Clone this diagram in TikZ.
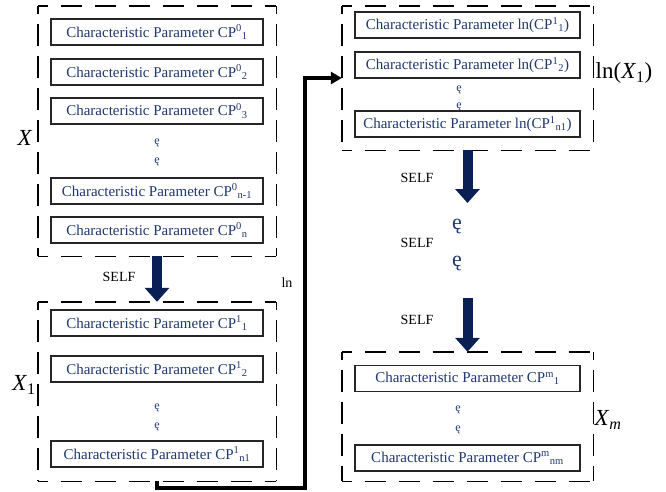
\documentclass[tikz,border=0pt]{standalone}
\usepackage{fontspec}
\setmainfont{Liberation Serif}
\usetikzlibrary{arrows.meta}
\definecolor{txtblue}{RGB}{31,56,110}
\definecolor{arrblue}{RGB}{10,32,84}
\begin{document}
\begin{tikzpicture}[x=1pt,y=-1pt,
  outer/.style={inner sep=0pt},
  hd/.style={draw=black, line width=1.4pt, dash pattern=on 21pt off 13pt, dash phase=11pt},
  vd/.style={draw=black, line width=1.4pt, dash pattern=on 22pt off 10pt, dash phase=14pt},
  param/.style={draw=black!85, line width=1.2pt, minimum height=26pt, inner sep=0pt, text=txtblue, font=\fontsize{15}{18}\selectfont},
  pl/.style={param, minimum width=212pt},
  pr/.style={param, minimum width=225pt},
  vdots/.style={text=txtblue, font=\fontsize{12}{14}\selectfont, inner sep=0pt},
  bigdots/.style={text=txtblue, font=\fontsize{22}{24}\selectfont, inner sep=0pt},
  selfarrow/.style={draw=arrblue, line width=10pt, -{Triangle[width=24pt,length=14pt]}},
  conn/.style={draw=black, line width=3.5pt, -{Triangle[width=12pt,length=11pt]}},
  lbl/.style={font=\fontsize{14}{16}\selectfont, inner sep=0pt},
  setlbl/.style={font=\fontsize{23}{26}\selectfont, inner sep=0pt}]
\useasboundingbox (0,0) rectangle (666,491);
% outer dashed groups
\node[outer, minimum width=238pt, minimum height=250pt] (x0) at (157,131) {};
\node[outer, minimum width=238pt, minimum height=179pt] (x1) at (157,391.5) {};
\node[outer, minimum width=251pt, minimum height=144pt] (lnx) at (467.5,78) {};
\node[outer, minimum width=251pt, minimum height=129pt] (xm) at (467.5,416.5) {};
\foreach \n in {x0,x1,lnx,xm}{
  \draw[hd] (\n.north west) -- (\n.north east);
  \draw[hd] (\n.south west) -- (\n.south east);
  \draw[vd] (\n.north west) -- (\n.south west);
  \draw[vd] (\n.north east) -- (\n.south east);
}
% X
\node[pl] (a1) at (157,32) {Characteristic Parameter CP\textsuperscript{0}\textsubscript{1}};
\node[pl] (a2) at (157,72) {Characteristic Parameter CP\textsuperscript{0}\textsubscript{2}};
\node[pl] (a3) at (157,111) {Characteristic Parameter CP\textsuperscript{0}\textsubscript{3}};
\node[vdots] (ad1) at (157,143) {ę};
\node[vdots] (ad2) at (157,162) {ę};
\node[pl] (a4) at (157,191) {Characteristic Parameter CP\textsuperscript{0}\textsubscript{n-1}};
\node[pl] (a5) at (157,230) {Characteristic Parameter CP\textsuperscript{0}\textsubscript{n}};
% X1
\node[pl] (b1) at (157,323) {Characteristic Parameter CP\textsuperscript{1}\textsubscript{1}};
\node[pl] (b2) at (157,369) {Characteristic Parameter CP\textsuperscript{1}\textsubscript{2}};
\node[vdots] (bd1) at (157,408) {ę};
\node[vdots] (bd2) at (157,427) {ę};
\node[pl] (b3) at (157,454) {Characteristic Parameter CP\textsuperscript{1}\textsubscript{n1}};
% ln(X1)
\node[pr] (c1) at (467.5,25) {Characteristic Parameter ln(CP\textsuperscript{1}\textsubscript{1})};
\node[pr] (c2) at (467.5,65) {Characteristic Parameter ln(CP\textsuperscript{1}\textsubscript{2})};
\node[vdots] (cd1) at (459,90) {ę};
\node[vdots] (cd2) at (459,107) {ę};
\node[pr] (c3) at (467.5,124) {Characteristic Parameter ln(CP\textsuperscript{1}\textsubscript{n1})};
% Xm
\node[pr] (d1) at (467.5,378.5) {Characteristic Parameter CP\textsuperscript{m}\textsubscript{1}};
\node[vdots] (dd1) at (458,410) {ę};
\node[vdots] (dd2) at (458,430) {ę};
\node[pr] (d2) at (467.5,458) {Characteristic Parameter CP\textsuperscript{m}\textsubscript{nm}};
% middle dots
\node[bigdots] (m1) at (457,226) {ę};
\node[bigdots] (m2) at (457,263) {ę};
% set labels
\node[setlbl] (lx0) at (25,138) {\textit{X}};
\node[setlbl] (lx1) at (24,385) {\textit{X}\textsubscript{1}};
\node[setlbl] (llnx) at (624,73) {ln(\textit{X}\textsubscript{1})};
\node[setlbl] (lxm) at (608,420) {\textit{X}\textsubscript{\textit{m}}};
% SELF labels
\node[lbl] (s1) at (119,277) {SELF};
\node[lbl] (s2) at (417,178) {SELF};
\node[lbl] (s3) at (417,243) {SELF};
\node[lbl] (s4) at (417,320) {SELF};
\node[lbl] (ln) at (287,283) {ln};
% arrows
\coordinate (e1) at (467.5,203);
\coordinate (e2) at (467.5,298);
\draw[selfarrow] (x0.south) -- (x1.north);
\draw[selfarrow] (lnx.south) -- (e1);
\draw[selfarrow] (e2) -- (xm.north);
\coordinate (cc) at (305,488);
\draw[conn] (x1.south) |- (cc) |- (lnx.west);
\end{tikzpicture}
\end{document}
